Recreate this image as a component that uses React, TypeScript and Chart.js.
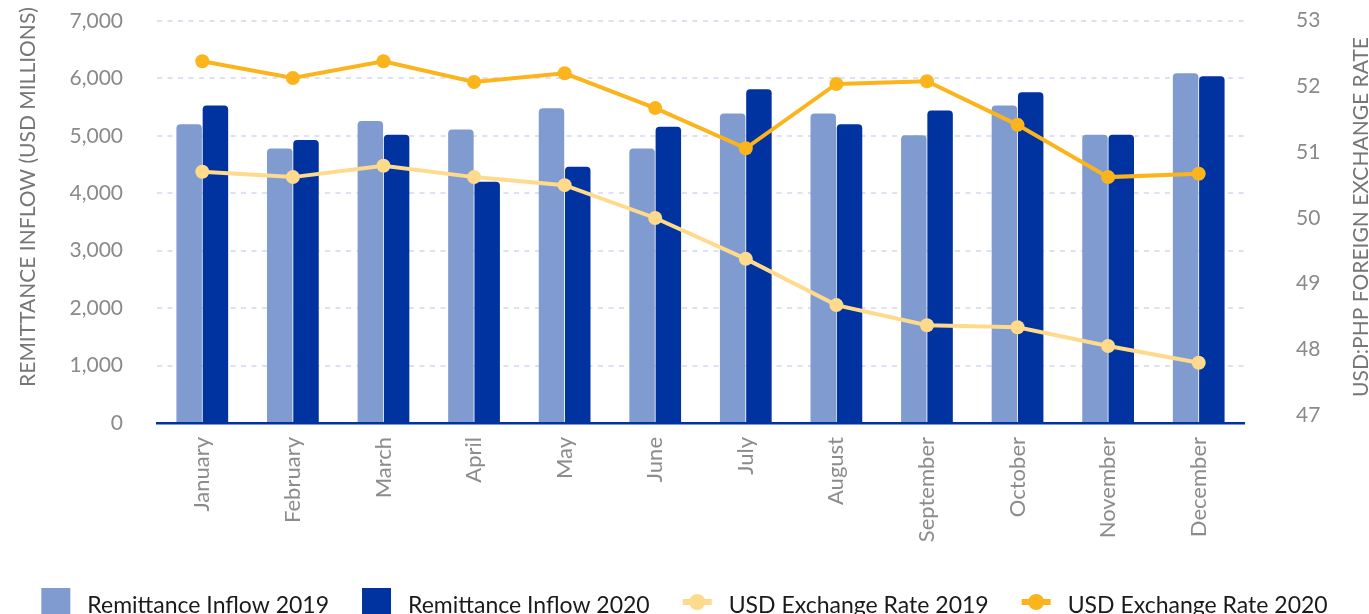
import React, { useEffect, useRef } from 'react';
import { Chart, registerables } from 'chart.js';

Chart.register(...registerables);

const months = ['January', 'February', 'March', 'April', 'May', 'June', 'July', 'August', 'September', 'October', 'November', 'December'];
const remit2019 = [5200, 4780, 5260, 5110, 5480, 4780, 5390, 5390, 5010, 5530, 5020, 6090];
const remit2020 = [5530, 4930, 5020, 4200, 4460, 5160, 5810, 5200, 5440, 5760, 5020, 6040];
const fx2019 = [50.75, 50.67, 50.84, 50.67, 50.55, 50.06, 49.45, 48.76, 48.46, 48.43, 48.15, 47.9];
const fx2020 = [52.4, 52.15, 52.4, 52.09, 52.22, 51.7, 51.1, 52.06, 52.1, 51.45, 50.67, 50.72];
const rightTickValues = [47, 48, 49, 50, 51, 52, 53];
const leftTitle = 'REMITTANCE INFLOW (USD MILLIONS)';
const rightTitle = 'USD:PHP FOREIGN EXCHANGE RATE';

const FONT = 'Lato';
const LIGHT_BLUE = '#809bd0';
const DARK_BLUE = '#0033a0';
const LIGHT_YELLOW = '#fedb8c';
const ORANGE = '#fbb41c';

const titlesPlugin = {
  id: 'axisTitles',
  afterDraw(chart: any) {
    const ctx = chart.ctx;
    ctx.save();
    ctx.font = `21px ${FONT}`;
    ctx.fillStyle = '#767676';
    ctx.textAlign = 'center';
    ctx.textBaseline = 'alphabetic';
    ctx.save();
    ctx.translate(35, 197);
    ctx.rotate(-Math.PI / 2);
    ctx.fillText(leftTitle, 0, 0);
    ctx.restore();
    ctx.save();
    ctx.translate(1368, 217);
    ctx.rotate(-Math.PI / 2);
    ctx.fillText(rightTitle, 0, 0);
    ctx.restore();
    ctx.restore();
  },
};

const legendPlugin = {
  id: 'customLegend',
  afterDraw(chart: any) {
    const ctx = chart.ctx;
    const dsList = chart.data.datasets;
    ctx.save();
    ctx.font = `23px ${FONT}`;
    const marker = 29;
    const gap = 17;
    const spacing = 33;
    const widths = dsList.map((d: any) => ctx.measureText(d.label).width);
    const total = widths.reduce((a: number, w: number) => a + marker + gap + w, 0) + spacing * (dsList.length - 1);
    let x = (chart.width - total) / 2;
    const boxTop = 588;
    const baseline = 613;
    const midY = 602;
    dsList.forEach((d: any, i: number) => {
      if (d.type === 'line') {
        ctx.strokeStyle = d.borderColor;
        ctx.lineWidth = 6;
        ctx.beginPath();
        ctx.moveTo(x, midY);
        ctx.lineTo(x + marker, midY);
        ctx.stroke();
        ctx.fillStyle = d.borderColor;
        ctx.beginPath();
        ctx.arc(x + marker / 2, midY, 8, 0, Math.PI * 2);
        ctx.fill();
      } else {
        ctx.fillStyle = d.backgroundColor;
        ctx.fillRect(x, boxTop, marker, marker);
      }
      ctx.fillStyle = '#1a1a1a';
      ctx.textAlign = 'left';
      ctx.textBaseline = 'alphabetic';
      ctx.fillText(d.label, x + marker + gap, baseline);
      x += marker + gap + widths[i] + spacing;
    });
    ctx.restore();
  },
};

const noVerticalPadding = (s: any) => {
  s.paddingTop = 0;
  s.paddingBottom = 0;
};

export default function App() {
  const canvasRef = useRef<HTMLCanvasElement | null>(null);

  useEffect(() => {
    if (!canvasRef.current) return;
    Chart.defaults.font.family = FONT;
    const barCommon = {
      type: 'bar' as const,
      yAxisID: 'y',
      order: 2,
      categoryPercentage: 0.58,
      barPercentage: 0.97,
      borderRadius: 4,
      borderSkipped: 'bottom' as const,
      borderWidth: 0,
    };
    const lineCommon = {
      type: 'line' as const,
      yAxisID: 'y1',
      borderWidth: 4,
      pointRadius: 7,
      pointHoverRadius: 7,
      pointBorderWidth: 0,
      tension: 0,
      fill: false,
    };
    const chart = new Chart(canvasRef.current, {
      type: 'bar',
      data: {
        labels: months,
        datasets: [
          { ...barCommon, label: 'Remittance Inflow 2019', data: remit2019, backgroundColor: LIGHT_BLUE },
          { ...barCommon, label: 'Remittance Inflow 2020', data: remit2020, backgroundColor: DARK_BLUE },
          { ...lineCommon, label: 'USD Exchange Rate 2019', data: fx2019, borderColor: LIGHT_YELLOW, backgroundColor: LIGHT_YELLOW, pointBackgroundColor: LIGHT_YELLOW, order: 1 },
          { ...lineCommon, label: 'USD Exchange Rate 2020', data: fx2020, borderColor: ORANGE, backgroundColor: ORANGE, pointBackgroundColor: ORANGE, order: 0 },
        ] as any,
      },
      options: {
        animation: false,
        responsive: false,
        maintainAspectRatio: false,
        layout: { padding: { top: 21, left: 0, right: 0, bottom: 0 } },
        plugins: {
          legend: { display: false },
          tooltip: { enabled: false },
        },
        scales: {
          x: {
            grid: { display: false, drawTicks: false },
            border: { display: true, color: DARK_BLUE, width: 2.5 },
            ticks: {
              minRotation: 90,
              maxRotation: 90,
              autoSkip: false,
              padding: 14,
              color: '#8c8c8c',
              font: { size: 22, family: FONT },
            },
            afterFit: (s: any) => {
              s.height = 191;
            },
          },
          y: {
            position: 'left',
            min: 0,
            max: 7000,
            ticks: {
              stepSize: 1000,
              padding: 34,
              color: '#8a8a8a',
              font: { size: 21, family: FONT },
              callback: (v: any) => Number(v).toLocaleString('en-US'),
            },
            grid: {
              drawTicks: false,
              lineWidth: 2,
              color: (c: any) => (c.tick && c.tick.value === 0 ? 'rgba(0,0,0,0)' : '#dde1f4'),
            },
            border: { display: false, dash: [5, 5.5] },
            afterFit: (s: any) => {
              s.width = 157;
              noVerticalPadding(s);
            },
          },
          y1: {
            position: 'right',
            min: 47,
            max: 53,
            display: false,
            grid: { display: false },
          },
          y2: {
            position: 'right',
            min: 46.878,
            max: 52.995,
            afterBuildTicks: (s: any) => {
              s.ticks = rightTickValues.map((v) => ({ value: v }));
            },
            ticks: {
              padding: 52,
              color: '#8a8a8a',
              font: { size: 21, family: FONT },
              callback: (v: any) => String(v),
            },
            grid: { display: false, drawTicks: false },
            border: { display: false },
            afterFit: (s: any) => {
              s.width = 125;
              noVerticalPadding(s);
            },
          },
        } as any,
      },
      plugins: [titlesPlugin, legendPlugin],
    });
    return () => chart.destroy();
  }, []);

  return (
    <div style={{ position: 'fixed', left: 0, top: 0, width: 1369, height: 614, background: '#fff' }}>
      <canvas ref={canvasRef} width={1369} height={614} style={{ display: 'block', width: 1369, height: 614 }} />
    </div>
  );
}
